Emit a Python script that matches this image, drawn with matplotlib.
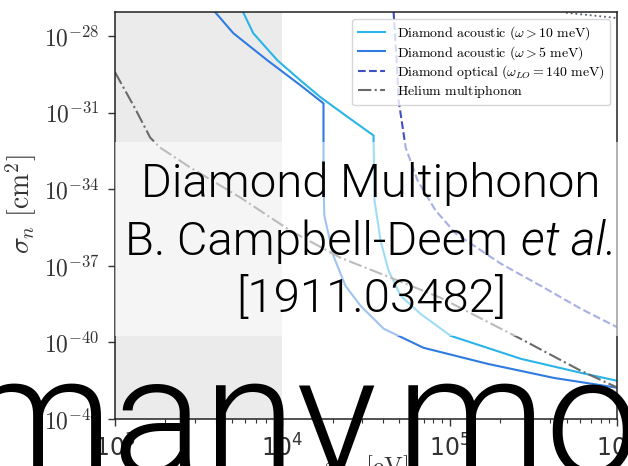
"""Diamond multiphonon reach plot with slide overlay text."""

import numpy as np
import matplotlib.pyplot as plt
import matplotlib.ticker as mticker
from matplotlib.patches import Rectangle

plt.rcParams["mathtext.fontset"] = "cm"

CYAN = "#2ab4e8"
BLUE = "#2f7be0"
OPTICAL = "#3f4fc4"
HELIUM = "#6a6a6a"
DOTTED = "#5a6473"
SHADE = "#ebebeb"

# --- data (log10 of mass in eV, log10 of sigma_n in cm^2) ---
ac10_logm = [3.754, 3.766, 3.826, 3.970, 4.108, 4.228, 4.377, 4.545, 4.551,
             4.587, 4.635, 4.707, 4.826, 5.006, 5.425, 5.784, 6.006]
ac10_logs = [-26.78, -27.06, -27.88, -28.94, -29.73, -30.39, -31.10, -31.89,
             -34.44, -36.01, -37.19, -38.17, -38.88, -39.74, -40.64, -41.19,
             -41.51]

ac5_logm = [3.569, 3.599, 3.707, 3.910, 4.108, 4.246, 4.246, 4.251, 4.305,
            4.377, 4.467, 4.605, 4.844, 5.228, 5.623, 6.006]
ac5_logs = [-26.59, -27.06, -27.88, -28.94, -29.92, -30.63, -33.65, -35.03,
            -36.60, -37.78, -38.56, -39.46, -40.21, -40.84, -41.39, -41.78]

opt_logm = [4.665, 4.665, 4.683, 4.695, 4.737, 4.808, 4.916, 5.036, 5.305,
            5.563, 5.784, 6.006]
opt_logs = [-26.59, -27.06, -28.94, -30.51, -32.36, -33.65, -34.83, -35.73,
            -36.91, -37.85, -38.68, -39.42]

he_logm = [3.000, 3.120, 3.210, 3.269, 3.449, 3.749, 4.048, 4.347, 4.647,
           4.946, 5.425, 5.784, 6.006]
he_logs = [-29.41, -30.83, -31.97, -32.36, -33.14, -34.32, -35.62, -36.68,
           -37.46, -38.25, -39.86, -41.11, -41.78]

top_logm = [5.695, 5.844, 6.006]
top_logs = [-27.08, -27.18, -27.29]

labels = [
    r"$\mathrm{Diamond\ acoustic\ }(\omega > 10\ \mathrm{meV})$",
    r"$\mathrm{Diamond\ acoustic\ }(\omega > 5\ \mathrm{meV})$",
    r"$\mathrm{Diamond\ optical\ }(\omega_{LO} = 140\ \mathrm{meV})$",
    r"$\mathrm{Helium\ multiphonon}$",
]
y_ticks = [-28, -31, -34, -37, -40, -43]
x_ticks = [3, 4, 5, 6]


def pw(v):
    return 10.0 ** np.asarray(v)


fig = plt.figure(figsize=(6.28, 4.66), dpi=100)
ax = fig.add_axes([115 / 628, 1 - 419 / 466, 502 / 628, 407 / 466])

ax.axvspan(1e3, 1e4, color=SHADE, zorder=0, lw=0)

ax.plot(pw(ac10_logm), pw(ac10_logs), color=CYAN, lw=1.5, label=labels[0])
ax.plot(pw(ac5_logm), pw(ac5_logs), color=BLUE, lw=1.5, label=labels[1])
ax.plot(pw(opt_logm), pw(opt_logs), color=OPTICAL, lw=1.5, ls="--",
        label=labels[2])
ax.plot(pw(he_logm), pw(he_logs), color=HELIUM, lw=1.5, ls="-.",
        label=labels[3])
ax.plot(pw(top_logm), pw(top_logs), color=DOTTED, lw=1.3, ls=":")

ax.set_xscale("log")
ax.set_yscale("log")
ax.set_xlim(1e3, 1e6)
ax.set_ylim(1e-43, 10 ** -27.05)

ax.set_yticks([10.0 ** t for t in y_ticks])
ax.yaxis.set_major_formatter(mticker.FuncFormatter(
    lambda v, p: r"$10^{%d}$" % round(np.log10(v))))
ax.yaxis.set_minor_locator(mticker.NullLocator())
ax.set_xticks([10.0 ** t for t in x_ticks])
ax.xaxis.set_minor_locator(mticker.LogLocator(base=10, subs=np.arange(2, 10)))
ax.xaxis.set_minor_formatter(mticker.NullFormatter())

ax.tick_params(axis="both", which="major", labelsize=17, length=5, width=1,
               pad=6, colors="#333333")
ax.tick_params(axis="x", which="minor", length=3, width=0.8, colors="#333333")
for s in ax.spines.values():
    s.set_color("#222222")
    s.set_linewidth(1.1)

ax.set_ylabel(r"$\sigma_n\ [\mathrm{cm}^2]$", fontsize=20, color="#333333",
              va="center")
ax.yaxis.set_label_coords(-0.187, 0.528)
ax.set_xlabel(r"$m_\chi\ [\mathrm{eV}]$", fontsize=18, color="#333333")
ax.xaxis.set_label_coords(0.5, -0.085)

leg = ax.legend(loc="upper right", fontsize=10, frameon=True,
                borderaxespad=0.5, handlelength=2.0, labelspacing=0.12)
leg.get_frame().set_edgecolor("#cccccc")
leg.set_zorder(6)

# faded overlay behind the slide text
fig.add_artist(Rectangle((115 / 628, 1 - 336 / 466), 1 - 115 / 628,
                         194 / 466, transform=fig.transFigure,
                         facecolor="white", edgecolor="none", alpha=0.55,
                         zorder=2))

font = dict(family="Roboto", weight=300, color="black", zorder=4)
fig.text(371 / 628, 1 - 197 / 466, "Diamond Multiphonon", fontsize=34,
         ha="center", va="baseline", **font)
fig.text(508 / 628, 1 - 255 / 466, "B. Campbell-Deem", fontsize=34,
         ha="right", va="baseline", **font)
fig.text(521 / 628, 1 - 255 / 466, "et al.", fontsize=34, style="italic",
         ha="left", va="baseline", **font)
fig.text(371 / 628, 1 - 312 / 466, "[1911.03482]", fontsize=34,
         ha="center", va="baseline", **font)

# huge next-slide text running off the bottom
fig.text(-37 / 628, 1 - 475 / 466, "many", fontsize=122,
         ha="left", va="baseline", **font)
fig.text(396 / 628, 1 - 475 / 466, "mo", fontsize=122,
         ha="left", va="baseline", **font)

fig.savefig("out.png", dpi=100, facecolor="white")
